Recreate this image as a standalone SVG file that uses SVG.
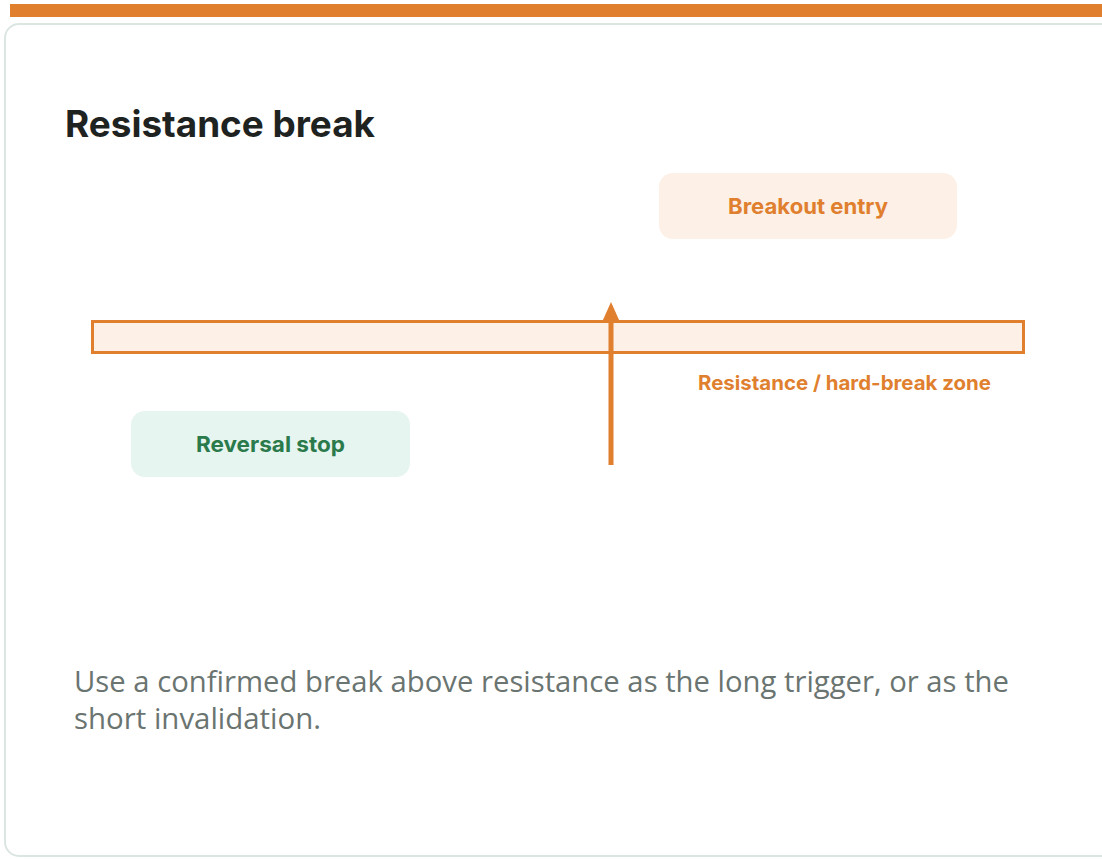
<svg xmlns="http://www.w3.org/2000/svg" width="1102" height="859" viewBox="0 0 1102 859">
<style>
.lbl{font-family:Inter,"Liberation Sans",sans-serif;font-weight:700;text-anchor:middle}
.or{fill:#e07f2e}
</style>
<rect x="0" y="0" width="1102" height="859" fill="#ffffff"/>
<rect x="10" y="4" width="1092" height="13" fill="#e07f2e"/>
<rect x="5" y="24" width="1112" height="832" rx="14" fill="#ffffff" stroke="#dce6e1" stroke-width="2"/>
<text x="65" y="137" font-family="Inter,'Liberation Sans',sans-serif" font-weight="700" font-size="37" fill="#1e2321" textLength="310" lengthAdjust="spacingAndGlyphs">Resistance break</text>
<g id="zone">
<rect x="92.5" y="321.5" width="931" height="31" fill="#fdf0e6" stroke="#e07f2e" stroke-width="3"/>
<text class="lbl or" x="844.5" y="390" font-size="20" textLength="293" lengthAdjust="spacingAndGlyphs">Resistance / hard-break zone</text>
</g>
<g id="breakout">
<rect x="659" y="173" width="298" height="66" rx="14" fill="#fdf0e6"/>
<text class="lbl or" x="808" y="214" font-size="21.5" textLength="160" lengthAdjust="spacingAndGlyphs">Breakout entry</text>
</g>
<g id="reversal">
<rect x="131" y="411" width="279" height="66" rx="14" fill="#e6f5ef"/>
<text class="lbl" x="270.5" y="452" font-size="21.5" fill="#2a7a4b" textLength="149" lengthAdjust="spacingAndGlyphs">Reversal stop</text>
</g>
<g id="connectors">
<line x1="611" y1="465" x2="611" y2="318" stroke="#e07f2e" stroke-width="5"/>
<polygon points="602.5,321 611,302 619.5,321" fill="#e07f2e"/>
</g>
<g font-family="'Open Sans','Noto Sans',sans-serif" font-size="29" fill="#6a7470">
<text x="74" y="692" textLength="935" lengthAdjust="spacingAndGlyphs">Use a confirmed break above resistance as the long trigger, or as the</text>
<text x="74" y="729" textLength="247" lengthAdjust="spacingAndGlyphs">short invalidation.</text>
</g>
</svg>
